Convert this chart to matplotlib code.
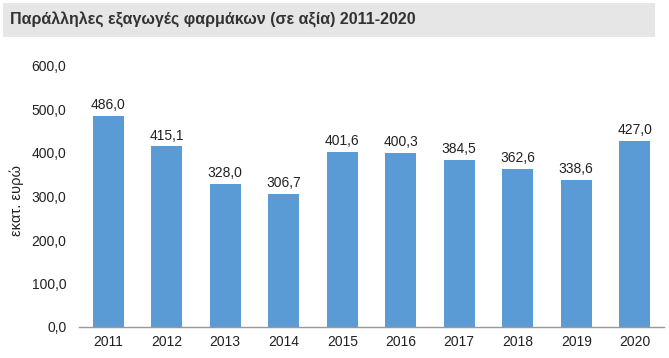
import matplotlib
matplotlib.use("Agg")
import matplotlib.pyplot as plt
from matplotlib.patches import Rectangle

years = ["2011", "2012", "2013", "2014", "2015", "2016", "2017", "2018", "2019", "2020"]
values = [486.0, 415.1, 328.0, 306.7, 401.6, 400.3, 384.5, 362.6, 338.6, 427.0]
yticks = [0, 100, 200, 300, 400, 500, 600]
title = "Παράλληλες εξαγωγές φαρμάκων (σε αξία) 2011-2020"
ylabel = "εκατ. ευρώ"

plt.rcParams['font.family'] = ['Liberation Sans', 'DejaVu Sans']

W, H = 669, 358
fig = plt.figure(figsize=(W/100, H/100), dpi=100)
fig.patch.set_facecolor("white")

# title band
fig.patches.append(Rectangle((3/W, 1 - 37/H), 652/W, 34/H, transform=fig.transFigure,
                             facecolor="#e6e6e6", edgecolor="none", zorder=0))
fig.text(10/W, 1 - 20/H, title, fontsize=11.5, fontweight="bold", color="#333333",
         va="center", ha="left")

ax = fig.add_axes([79/W, 1 - 327/H, (664-79)/W, (327-66)/H])
x = list(range(len(years)))
ax.bar(x, values, width=0.53, color="#5b9bd5", zorder=2)
ax.set_xlim(-0.5, len(years) - 0.5)
ax.set_ylim(0, 600)
ax.set_yticks(yticks)
ax.set_yticklabels([f"{v:.1f}".replace(".", ",") for v in yticks], fontsize=10, color="#222222")
ax.set_xticks(x)
ax.set_xticklabels(years, fontsize=10, color="#222222")
for s in ["top", "right", "left"]:
    ax.spines[s].set_visible(False)
ax.spines["bottom"].set_color("#999999")
ax.spines["bottom"].set_linewidth(1)
ax.tick_params(axis="both", length=0)
ax.tick_params(axis="y", pad=9)
ax.tick_params(axis="x", pad=6)

for xi, v in zip(x, values):
    ax.text(xi, v + 9, f"{v:.1f}".replace(".", ","), ha="center", va="bottom",
            fontsize=10, color="#222222")

fig.text(17/W, 1 - 200/H, ylabel, rotation=90, ha="center", va="center",
         fontsize=10.5, color="#222222")

fig.savefig("out.png", dpi=100)
